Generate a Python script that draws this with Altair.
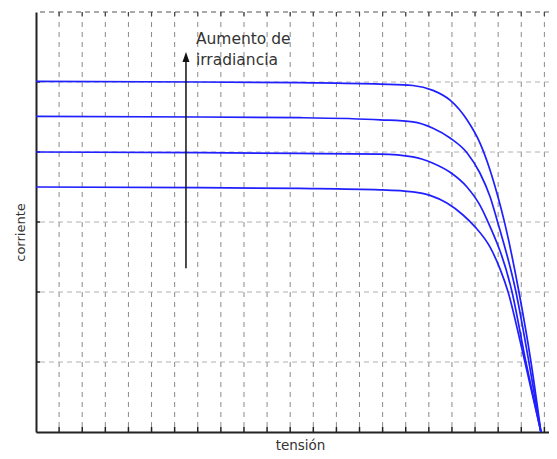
import altair as alt
import pandas as pd

# ---- data ----
x_grid = list(range(1, 23))          # vertical dashed grid positions (tensión)
y_grid = [1, 2, 3, 4, 5]             # horizontal dashed grid positions (corriente)
y_top = [6]

curve_names = ["G1", "G2", "G3", "G4"]
c1_x = [0, 7.1, 11.42, 14.89, 16.31, 17.18, 17.92, 18.65, 19.21, 19.65, 19.99, 20.25, 20.9, 21.42, 21.85]
c1_y = [5.01, 5.0, 4.99, 4.97, 4.95, 4.88, 4.74, 4.46, 4.13, 3.74, 3.36, 3.03, 2.0, 1.0, 0.0]
c2_x = [0, 7.1, 11.42, 14.89, 16.31, 17.18, 17.92, 18.65, 19.21, 19.65, 19.95, 20.77, 21.33, 21.85]
c2_y = [4.51, 4.5, 4.49, 4.46, 4.43, 4.34, 4.2, 3.99, 3.7, 3.36, 3.03, 2.0, 1.0, 0.0]
c3_x = [0, 7.1, 11.42, 14.89, 16.31, 17.18, 17.92, 18.65, 19.21, 19.52, 20.6, 21.2, 21.85]
c3_y = [4.0, 3.99, 3.98, 3.97, 3.93, 3.84, 3.71, 3.5, 3.24, 3.03, 2.0, 1.0, 0.0]
c4_x = [0, 7.1, 11.42, 14.89, 16.31, 17.05, 17.78, 18.48, 19.0, 19.65, 20.08, 20.43, 20.95, 21.4, 21.85]
c4_y = [3.5, 3.49, 3.48, 3.46, 3.43, 3.38, 3.27, 3.1, 2.93, 2.64, 2.33, 2.0, 1.3, 0.65, 0.0]

arrow_x = [6.49]
arrow_y0 = [2.34]
arrow_y1 = [5.3]
arrow_head_y = [5.357]

label_lines = ["Aumento de", "irradiancia"]
label_x = [6.92, 6.92]
label_y = [5.543, 5.243]

X_DOMAIN = [0, 22.2]
Y_DOMAIN = [0, 6]

# ---- tables ----
rows = []
for name, xs_, ys_ in zip(curve_names, [c1_x, c2_x, c3_x, c4_x], [c1_y, c2_y, c3_y, c4_y]):
    for i, (a, b) in enumerate(zip(xs_, ys_)):
        rows.append({"curve": name, "order": i, "x": a, "y": b})
curves_df = pd.DataFrame(rows)
xg_df = pd.DataFrame({"x": x_grid})
yg_df = pd.DataFrame({"y": y_grid})
yt_df = pd.DataFrame({"y": y_top})
arrow_df = pd.DataFrame({"x": arrow_x, "y": arrow_y0, "y2": arrow_y1})
head_df = pd.DataFrame({"x": arrow_x, "y": arrow_head_y})
text_df = pd.DataFrame({"x": label_x, "y": label_y, "t": label_lines})

xs = alt.Scale(domain=X_DOMAIN, nice=False, zero=False)
ys = alt.Scale(domain=Y_DOMAIN, nice=False, zero=False)

FONT = "DejaVu Sans"

AX = alt.Axis(
    title="tensión", labels=False, ticks=False, grid=False,
    domainColor="#222222", domainWidth=2,
    titleFont=FONT, titleFontSize=13.5, titleFontWeight="normal",
    titleColor="#333333", titlePadding=6, titleX=264,
)
AY = alt.Axis(
    title="corriente", labels=False, ticks=False, grid=False,
    domainColor="#222222", domainWidth=2,
    titleFont=FONT, titleFontSize=13, titleFontWeight="normal",
    titleColor="#333333", titlePadding=9, titleY=220,
)


def X(f="x"):
    return alt.X(f + ":Q", scale=xs, axis=AX, title="tensión")


def Y(f="y"):
    return alt.Y(f + ":Q", scale=ys, axis=AY, title="corriente")


vgrid = alt.Chart(xg_df).mark_rule(color="#8a8a8a", strokeDash=[5, 5], strokeWidth=1).encode(x=X())
hgrid = alt.Chart(yg_df).mark_rule(color="#b0b0b0", strokeDash=[5, 4], strokeWidth=1).encode(y=Y())
topline = alt.Chart(yt_df).mark_rule(color="#555555", strokeDash=[5, 4], strokeWidth=1).encode(y=Y())
bottom_ticks = alt.Chart(xg_df).mark_rule(color="#222222", strokeWidth=1.5).encode(
    x=X(), y=alt.value(420), y2=alt.value(415)
)
top_ticks = alt.Chart(xg_df).mark_rule(color="#444444", strokeWidth=1.2).encode(
    x=X(), y=alt.value(0), y2=alt.value(4)
)
left_ticks = alt.Chart(yg_df).mark_rule(color="#222222", strokeWidth=1.5).encode(
    y=Y(), x=alt.value(0), x2=alt.value(4)
)

lines = alt.Chart(curves_df).mark_line(
    color="#1f1fff", strokeWidth=1.7, interpolate="monotone", clip=True
).encode(x=X(), y=Y(), detail="curve:N", order="order:Q")

arrow = alt.Chart(arrow_df).mark_rule(color="#111111", strokeWidth=1.5).encode(
    x=X(), y=Y(), y2="y2:Q"
)
head = alt.Chart(head_df).mark_point(
    shape="M0,-1L0.7,1L-0.7,1Z", filled=True, color="#111111", size=100, opacity=1
).encode(x=X(), y=Y())
texts = alt.Chart(text_df).mark_text(
    align="left", baseline="alphabetic", font=FONT, fontSize=15.5, color="#333333"
).encode(x=X(), y=Y(), text="t:N")

chart = alt.layer(
    vgrid, hgrid, topline, bottom_ticks, top_ticks, left_ticks, lines, arrow, head, texts
).properties(
    width=513, height=420,
    autosize=alt.AutoSizeParams(type="none"),
    padding={"left": 28, "top": 4, "right": 0, "bottom": 26},
    background="white",
).configure_view(stroke=None)

chart.save("out.html", embed_options={"renderer": "svg", "actions": False})
